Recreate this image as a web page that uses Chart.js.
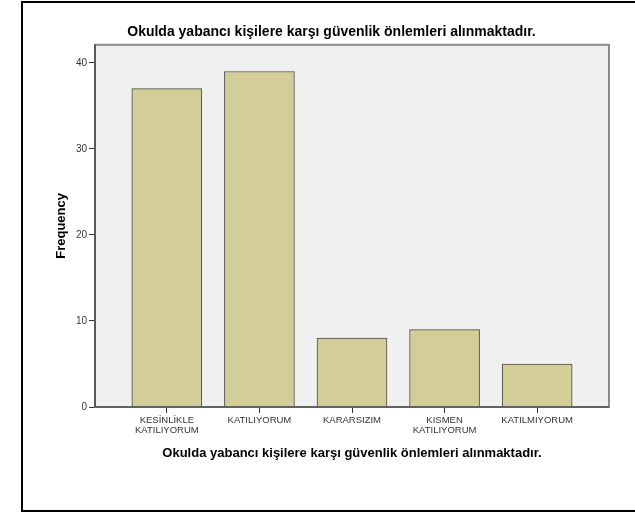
<!DOCTYPE html>
<html>
<head>
<meta charset="utf-8">
<script src="https://cdn.jsdelivr.net/npm/chart.js@4/dist/chart.umd.min.js"></script>
<style>
html,body{margin:0;padding:0;background:#fff;}
#wrap{width:635px;height:513px;position:relative;}
</style>
</head>
<body>
<div id="wrap"><canvas id="c" width="635" height="513"></canvas></div>
<script>
const categories = [["KESİNLİKLE","KATILIYORUM"], "KATILIYORUM", "KARARSIZIM", ["KISMEN","KATILIYORUM"], "KATILMIYORUM"];
const frequencies = [37, 39, 8, 9, 5];
const yTicks = [0, 10, 20, 30, 40];
const chartTitle = "Okulda yabancı kişilere karşı güvenlik önlemleri alınmaktadır.";
const xTitle = "Okulda yabancı kişilere karşı güvenlik önlemleri alınmaktadır.";
const yTitle = "Frequency";

const frame = {
  id: 'frame',
  beforeDraw(chart) {
    const {ctx, chartArea: a} = chart;
    ctx.save();
    ctx.fillStyle = '#fff';
    ctx.fillRect(0, 0, chart.width, chart.height);
    ctx.fillStyle = '#f0f0f0';
    ctx.fillRect(a.left, a.top, a.right - a.left, a.bottom - a.top);
    ctx.restore();
  },
  afterDraw(chart) {
    const {ctx, chartArea: a} = chart;
    ctx.save();
    ctx.strokeStyle = '#8a8a8a';
    ctx.lineWidth = 2;
    ctx.strokeRect(a.left, a.top, a.right - a.left, a.bottom - a.top);
    ctx.strokeStyle = '#3a3a3a';
    ctx.lineWidth = 1.2;
    ctx.beginPath();
    ctx.moveTo(a.left, a.top);
    ctx.lineTo(a.left, a.bottom);
    ctx.lineTo(a.right, a.bottom);
    ctx.stroke();
    ctx.strokeStyle = '#000';
    ctx.lineWidth = 2;
    ctx.strokeRect(22, 2, 640, 509);
    ctx.restore();
  }
};

new Chart(document.getElementById('c'), {
  type: 'bar',
  data: {
    datasets: [{
      data: frequencies.map((v, i) => ({x: i, y: v})),
      backgroundColor: '#d3ce97',
      borderColor: '#4a4a44',
      borderWidth: 1,
      barThickness: 70
    }]
  },
  options: {
    responsive: false,
    animation: false,
    layout: {padding: {left: 54, right: 26, top: 24, bottom: 52}},
    plugins: {
      legend: {display: false},
      tooltip: {enabled: false},
      title: {
        display: true,
        text: chartTitle,
        color: '#000',
        font: {family: 'Liberation Sans, Arial, sans-serif', size: 14, weight: 'bold'},
        padding: {top: 0, bottom: 4}
      }
    },
    scales: {
      x: {
        type: 'linear',
        offset: false,
        min: -0.776,
        max: 4.776,
        afterBuildTicks(s) { s.ticks = categories.map((c, i) => ({value: i})); },
        afterFit(s) { s.height = 54; },
        ticks: {
          autoSkip: false,
          maxRotation: 0,
          padding: 3,
          color: '#333',
          font: {family: 'Liberation Sans, Arial, sans-serif', size: 9.5, lineHeight: 1.0},
          callback: (v) => categories[v]
        },
        grid: {offset: false, drawOnChartArea: false, drawTicks: true, tickLength: 6, color: '#333'},
        border: {display: false},
        title: {
          display: true,
          text: xTitle,
          color: '#000',
          padding: 0,
          font: {family: 'Liberation Sans, Arial, sans-serif', size: 13, weight: 'bold'}
        }
      },
      y: {
        min: 0,
        max: 42.1,
        afterBuildTicks(s) { s.ticks = yTicks.map(v => ({value: v})); },
        afterFit(s) { s.width = 41; },
        ticks: {
          padding: 2,
          color: '#333',
          font: {family: 'Liberation Sans, Arial, sans-serif', size: 10}
        },
        grid: {drawOnChartArea: false, drawTicks: true, tickLength: 6, color: '#333'},
        border: {display: false},
        title: {
          display: true,
          text: yTitle,
          color: '#000',
          padding: 0,
          font: {family: 'Liberation Sans, Arial, sans-serif', size: 13, weight: 'bold'}
        }
      }
    }
  },
  plugins: [frame]
});
</script>
</body>
</html>
